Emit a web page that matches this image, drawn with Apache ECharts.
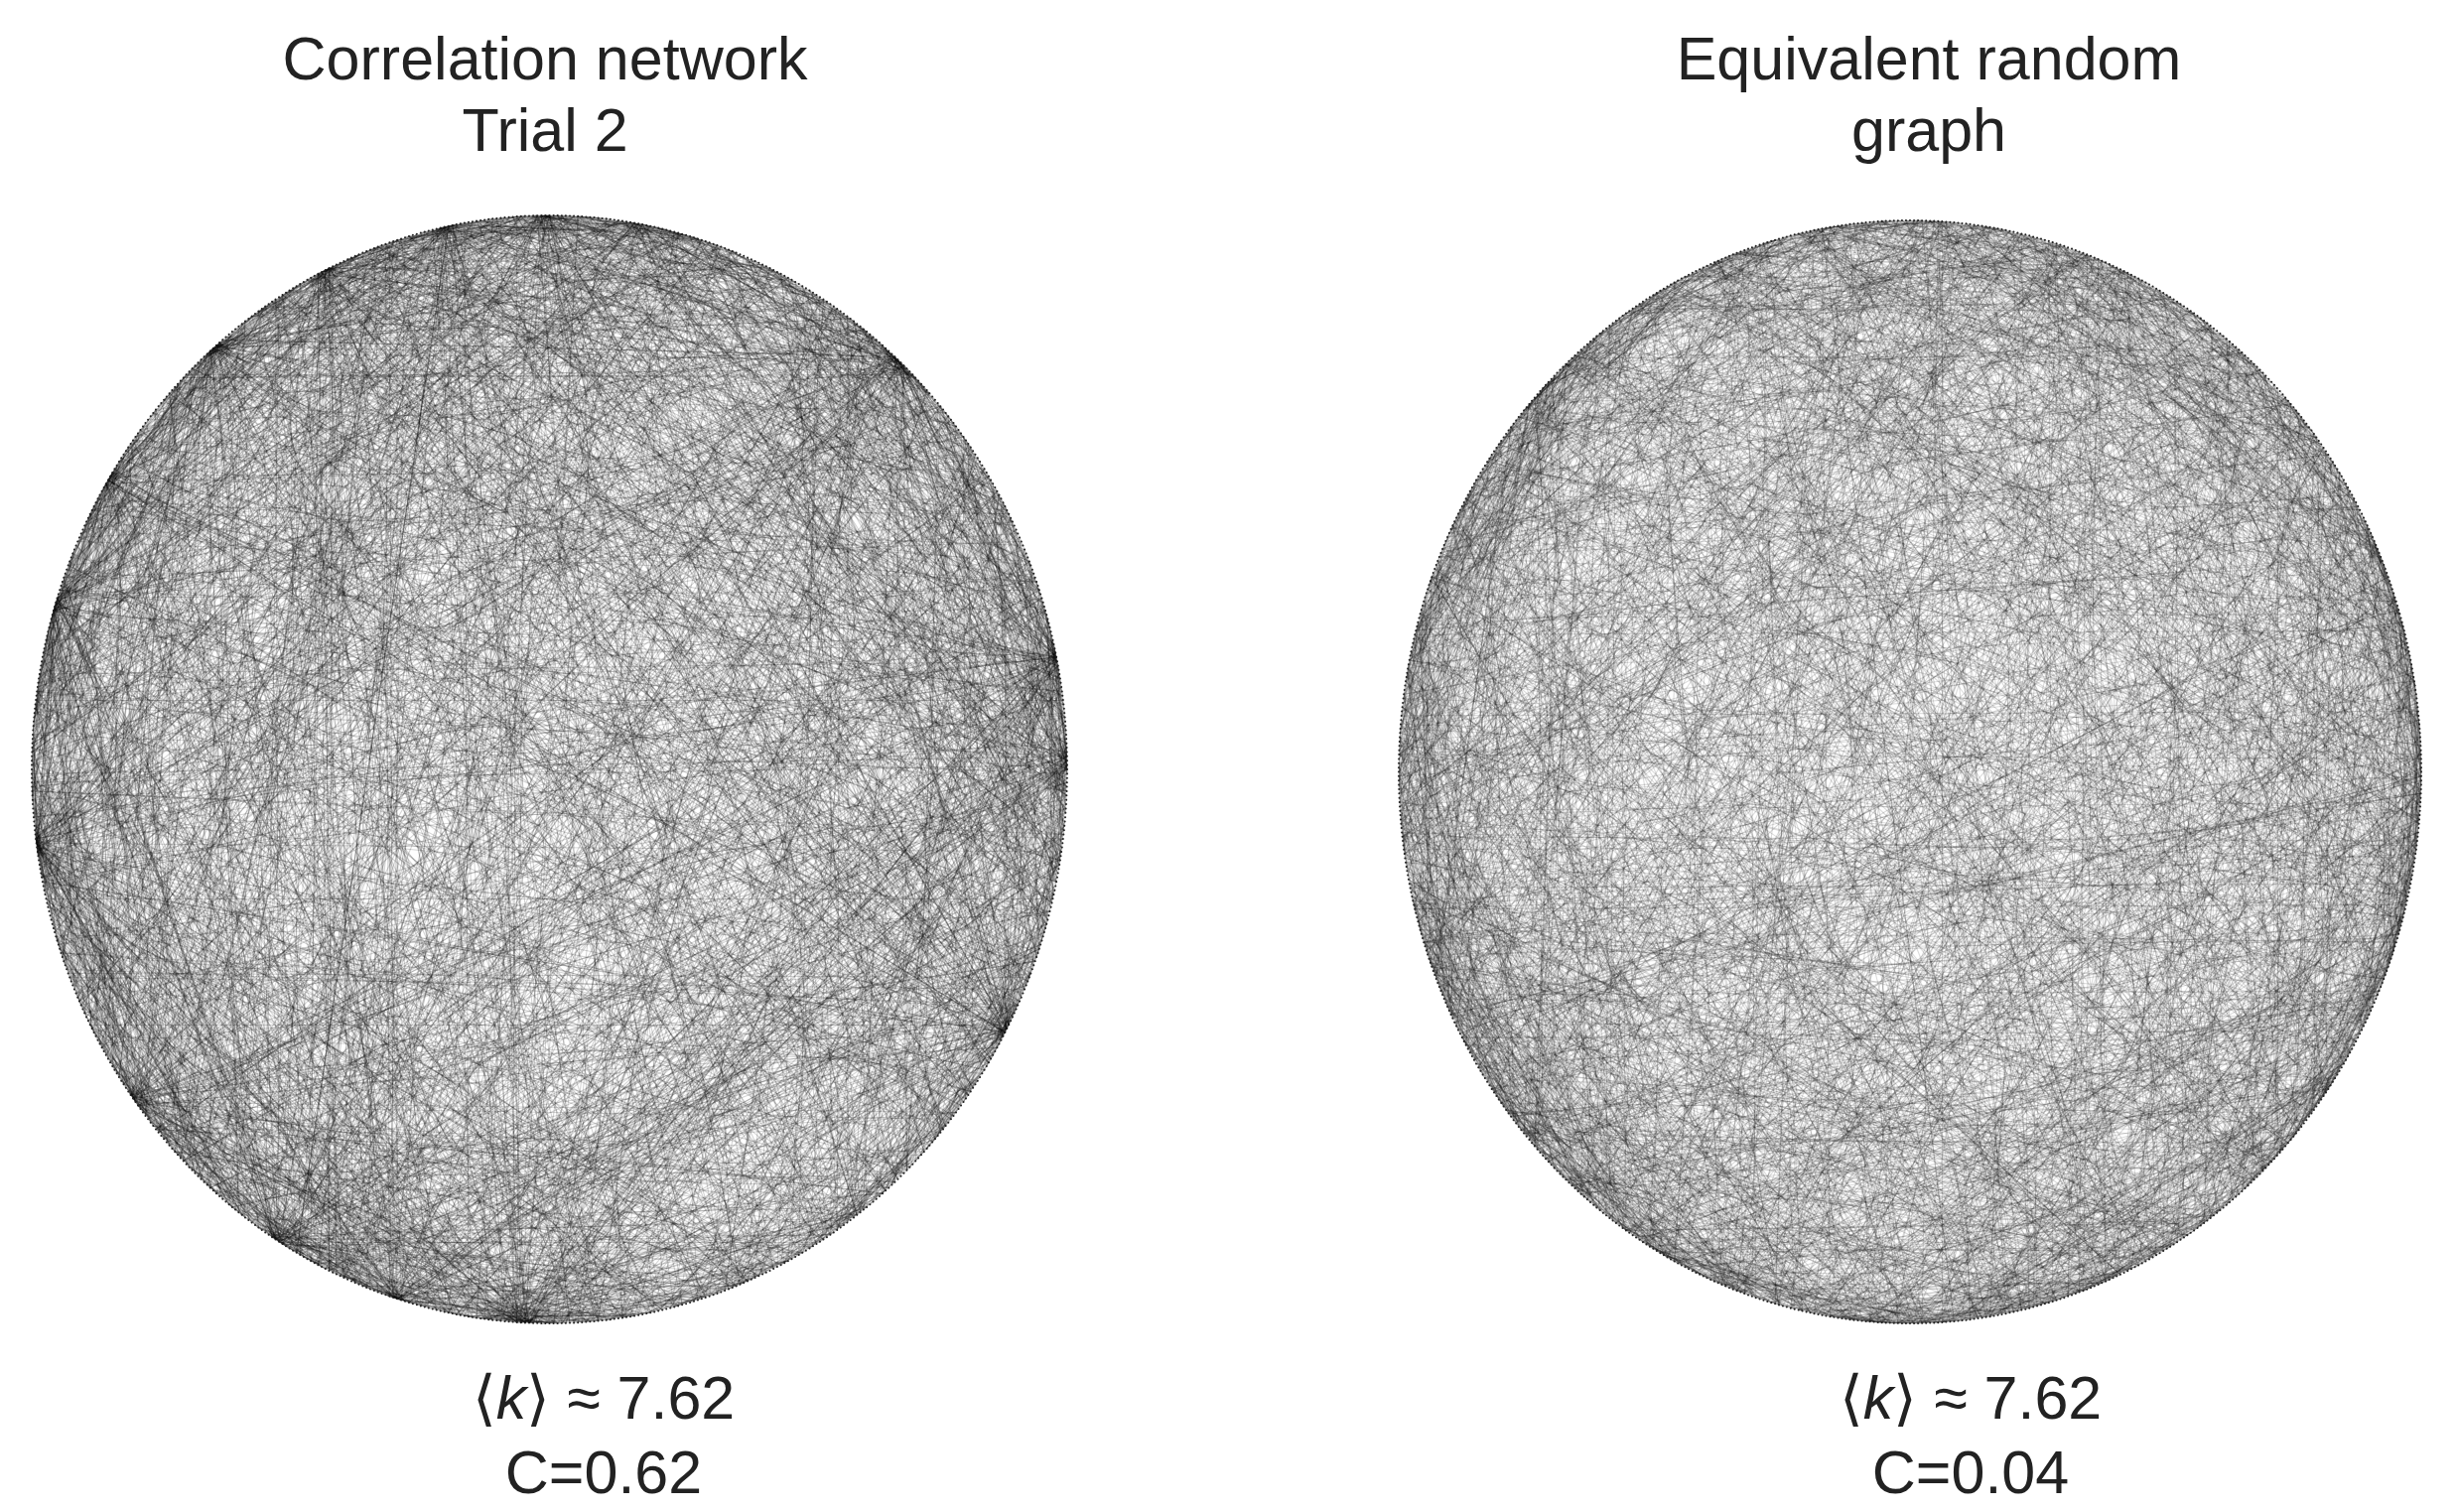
<!DOCTYPE html>
<html><head><meta charset="utf-8">
<script src="https://cdn.jsdelivr.net/npm/echarts@6/dist/echarts.min.js"></script>
<style>html,body{margin:0;background:#fff}#c{width:2475px;height:1523px}</style>
</head><body><div id="c"></div>
<script>
// Summary values
const titles = ["Correlation network\nTrial 2", "Equivalent random\ngraph"];
const meanDegree = [7.62, 7.62];
const clustering = [0.62, 0.04];
const nodeCount = 800;
// Hub positions (fraction of the circle, counter-clockwise from the right) visible in the left graph
const hubFractions = [0.0, 0.03, 0.13, 0.22, 0.25, 0.28, 0.32, 0.36, 0.41, 0.45, 0.52, 0.60, 0.66, 0.70, 0.74, 0.92];

// Individual edges cannot be read from the image; a fixed-seed generator
// produces an edge list with the stated mean degree.
function lcg(seed){let s=seed>>>0;return()=>{s=(s*1664525+1013904223)>>>0;return s/4294967296;};}
function buildGraph(seed, k, hubs, W, H){
  const rnd=lcg(seed), nodes=[], links=[];
  for(let i=0;i<nodeCount;i++){
    const t=2*Math.PI*i/nodeCount;
    nodes.push({name:String(i), x:W/2*Math.cos(t), y:-H/2*Math.sin(t)});
  }
  const m=Math.round(nodeCount*k/2);
  const hubIdx=hubs.map(f=>Math.round(f*nodeCount)%nodeCount);
  for(let e=0;e<m;e++){
    let a=Math.floor(rnd()*nodeCount), b=Math.floor(rnd()*nodeCount);
    if(hubs.length && rnd()<0.4) a=(hubIdx[Math.floor(rnd()*hubIdx.length)]+Math.floor(rnd()*4))%nodeCount;
    if(a===b) b=(b+1)%nodeCount;
    links.push({source:String(a),target:String(b)});
  }
  return {nodes,links};
}
const g1=buildGraph(7,meanDegree[0],hubFractions,1043,1116), g2=buildGraph(11,meanDegree[1],[],1030,1111);

function series(g, box, op){
  return Object.assign({type:'graph', layout:'none',
    symbolSize:2, itemStyle:{color:'#222'}, silent:true, animation:false,
    lineStyle:{color:'#000', opacity:op, width:1.1},
    data:g.nodes, links:g.links, label:{show:false}}, box);
}
const font="'Liberation Sans', Arial, sans-serif";
const rich={i:{fontStyle:'italic',fontFamily:font,fontSize:61,color:'#222'}};
const ts={fontFamily:font,fontSize:61,fontWeight:'normal',color:'#222',lineHeight:72,rich:rich};
const stat=i=>'⟨{i|k}⟩ ≈ '+meanDegree[i].toFixed(2)+'\nC='+clustering[i].toFixed(2);
const chart=echarts.init(document.getElementById('c'));
chart.setOption({backgroundColor:'#fff', animation:false,
  title:[
    {text:titles[0], left:544, top:22, textAlign:'center', textStyle:ts},
    {text:titles[1], left:1938, top:22, textAlign:'center', textStyle:ts},
    {text:stat(0), left:603, top:1370, textAlign:'center', textStyle:Object.assign({},ts,{lineHeight:75})},
    {text:stat(1), left:1980, top:1370, textAlign:'center', textStyle:Object.assign({},ts,{lineHeight:75})}
  ],
  series:[series(g1,{left:32,top:217,width:1043,height:1116},0.17), series(g2,{left:1409,top:222,width:1030,height:1111},0.14)]
});
</script></body></html>
